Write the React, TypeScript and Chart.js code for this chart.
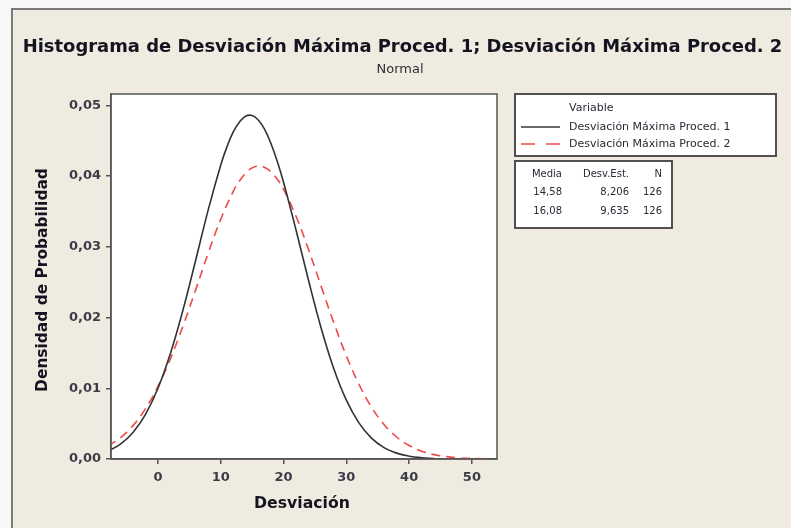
import React, { useEffect, useRef } from "react";
import { Chart, registerables } from "chart.js";
Chart.register(...registerables);

// Curve 1: Desviación Máxima Proced. 1
const xs1 = [-8, -6, -4, -2, 0, 2, 4, 6, 8, 10, 11, 12, 13, 14, 15, 16, 17, 18, 19, 20, 22, 24, 26, 28, 30, 32, 34, 36, 38, 40, 42, 44];
const ys1 = [0.00110, 0.00209, 0.00375, 0.00631, 0.01003, 0.01501, 0.02117, 0.02814, 0.03525, 0.04160, 0.04420, 0.04627, 0.04768, 0.04850, 0.04855, 0.04789, 0.04657, 0.04457, 0.04205, 0.03909, 0.03230, 0.02516, 0.01846, 0.01277, 0.00832, 0.00511, 0.00295, 0.00161, 0.00083, 0.00040, 0.00018, 0.00008];
// Curve 2: Desviación Máxima Proced. 2
const xs2 = [-8, -6, -4, -2, 0, 2, 4, 6, 8, 10, 12, 13, 14, 15, 16, 17, 18, 19, 20, 22, 24, 26, 28, 30, 32, 34, 36, 38, 40, 42, 44, 46, 48, 50, 52];
const ys2 = [0.00182, 0.00300, 0.00472, 0.00712, 0.01029, 0.01424, 0.01887, 0.02395, 0.02913, 0.03393, 0.03786, 0.03934, 0.04045, 0.04115, 0.04141, 0.04121, 0.04059, 0.03955, 0.03812, 0.03428, 0.02954, 0.02437, 0.01926, 0.01458, 0.01057, 0.00734, 0.00489, 0.00311, 0.00190, 0.00111, 0.00062, 0.00033, 0.00017, 0.00008, 0.00004];

const xTicks = [0, 10, 20, 30, 40, 50];
const yTicks = [0, 0.01, 0.02, 0.03, 0.04, 0.05];
const seriesNames = ["Desviación Máxima Proced. 1", "Desviación Máxima Proced. 2"];
const medias = ["14,58", "16,08"];
const desvEst = ["8,206", "9,635"];
const ns = ["126", "126"];

const TITLE = "Histograma de Desviación Máxima Proced. 1; Desviación Máxima Proced. 2";
const SUBTITLE = "Normal";
const XTITLE = "Desviación";
const YTITLE = "Densidad de Probabilidad";
const FONT = '"DejaVu Sans", sans-serif';

function fitFont(ctx: CanvasRenderingContext2D, text: string, weight: string, target: number) {
  ctx.font = `${weight} 20px ${FONT}`;
  const w = ctx.measureText(text).width;
  const size = (20 * target) / w;
  ctx.font = `${weight} ${size}px ${FONT}`;
}

const decor = {
  id: "decor",
  beforeDraw(chart: any) {
    const ctx = chart.ctx as CanvasRenderingContext2D;
    const W = chart.width, H = chart.height;
    ctx.save();
    ctx.fillStyle = "#f7f7f7";
    ctx.fillRect(0, 0, W, H);
    ctx.fillStyle = "#efebe1";
    ctx.fillRect(12, 9, W, H);
    ctx.strokeStyle = "#7a7a7a";
    ctx.lineWidth = 2;
    ctx.beginPath();
    ctx.moveTo(12, H + 5);
    ctx.lineTo(12, 9);
    ctx.lineTo(W + 5, 9);
    ctx.stroke();
    const a = chart.chartArea;
    ctx.fillStyle = "#ffffff";
    ctx.fillRect(a.left, a.top, a.right - a.left, a.bottom - a.top);
    ctx.restore();
  },
  afterDraw(chart: any) {
    const ctx = chart.ctx as CanvasRenderingContext2D;
    const a = chart.chartArea;
    ctx.save();
    // plot frame
    ctx.strokeStyle = "#555555";
    ctx.lineWidth = 1.5;
    ctx.strokeRect(a.left, a.top, a.right - a.left, a.bottom - a.top);

    // titles
    ctx.fillStyle = "#141420";
    ctx.textAlign = "center";
    ctx.textBaseline = "middle";
    fitFont(ctx, TITLE, "bold", 760);
    ctx.fillText(TITLE, 402.5, 47);
    ctx.fillStyle = "#303038";
    ctx.font = `13px ${FONT}`;
    ctx.fillText(SUBTITLE, 400, 70);

    ctx.fillStyle = "#141420";
    fitFont(ctx, XTITLE, "bold", 96);
    ctx.fillText(XTITLE, 302, 504);

    ctx.save();
    ctx.translate(43, 280);
    ctx.rotate(-Math.PI / 2);
    fitFont(ctx, YTITLE, "bold", 224);
    ctx.fillText(YTITLE, 0, 0);
    ctx.restore();

    // legend box
    ctx.fillStyle = "#ffffff";
    ctx.fillRect(515, 94, 261, 62);
    ctx.strokeStyle = "#505050";
    ctx.lineWidth = 2;
    ctx.strokeRect(515, 94, 261, 62);
    ctx.fillStyle = "#2a2a36";
    ctx.textAlign = "left";
    ctx.font = `11px ${FONT}`;
    ctx.fillText("Variable", 569, 108);
    const rows = [127, 144];
    seriesNames.forEach((n, i) => {
      ctx.fillStyle = "#2a2a36";
      ctx.font = `11px ${FONT}`;
      ctx.fillText(n, 569, rows[i]);
      ctx.beginPath();
      ctx.moveTo(521, rows[i]);
      ctx.lineTo(560, rows[i]);
      if (i === 0) {
        ctx.setLineDash([]);
        ctx.strokeStyle = "#3a3a3a";
      } else {
        ctx.setLineDash([14, 11]);
        ctx.strokeStyle = "#f04848";
      }
      ctx.lineWidth = 1.5;
      ctx.stroke();
      ctx.setLineDash([]);
    });

    // stats table
    ctx.fillStyle = "#ffffff";
    ctx.fillRect(515, 161, 157, 67);
    ctx.strokeStyle = "#505050";
    ctx.lineWidth = 2;
    ctx.strokeRect(515, 161, 157, 67);
    ctx.fillStyle = "#2a2a36";
    ctx.font = `10px ${FONT}`;
    ctx.textAlign = "right";
    const cols = [562, 629, 662];
    const headY = 174;
    ctx.fillText("Media", cols[0], headY);
    ctx.fillText("Desv.Est.", cols[1], headY);
    ctx.fillText("N", cols[2], headY);
    const ry = [192, 211];
    medias.forEach((m, i) => {
      ctx.fillText(m, cols[0], ry[i]);
      ctx.fillText(desvEst[i], cols[1], ry[i]);
      ctx.fillText(ns[i], cols[2], ry[i]);
    });
    ctx.restore();
  },
};

export default function App() {
  const ref = useRef<HTMLCanvasElement | null>(null);
  useEffect(() => {
    if (!ref.current) return;
    const chart = new Chart(ref.current, {
      type: "line",
      data: {
        datasets: [
          {
            label: seriesNames[0],
            data: xs1.map((x, i) => ({ x, y: ys1[i] })),
            borderColor: "#333333",
            borderWidth: 1.6,
            pointRadius: 0,
            tension: 0.4,
            fill: false,
            clip: 0,
          } as any,
          {
            label: seriesNames[1],
            data: xs2.map((x, i) => ({ x, y: ys2[i] })),
            borderColor: "#f04848",
            borderWidth: 1.6,
            borderDash: [9, 6],
            pointRadius: 0,
            tension: 0.4,
            fill: false,
            clip: 0,
          } as any,
        ],
      },
      options: {
        responsive: false,
        animation: false,
        devicePixelRatio: 1,
        layout: { padding: { left: 12, top: 94, right: 294, bottom: 29 } },
        plugins: { legend: { display: false }, title: { display: false }, tooltip: { enabled: false } },
        scales: {
          x: {
            type: "linear",
            min: -7.5,
            max: 54,
            afterFit: (s: any) => { s.height = 40; },
            afterBuildTicks: (s: any) => { s.ticks = xTicks.map((v) => ({ value: v })); },
            grid: { drawOnChartArea: false, drawTicks: true, tickLength: 5, color: "#555555", lineWidth: 1.5 },
            border: { display: true, color: "#555555", width: 1.5 },
            ticks: {
              padding: 6,
              color: "#3c3c48",
              font: { family: FONT, size: 13, weight: "bold" },
              maxRotation: 0,
              callback: (v: any) => String(v),
            },
          },
          y: {
            type: "linear",
            min: 0,
            max: 0.0516,
            afterFit: (s: any) => { s.width = 99; },
            afterBuildTicks: (s: any) => { s.ticks = yTicks.map((v) => ({ value: v })); },
            grid: { drawOnChartArea: false, drawTicks: true, tickLength: 5, color: "#555555", lineWidth: 1.5 },
            border: { display: true, color: "#555555", width: 1.5 },
            ticks: {
              padding: 5,
              color: "#3c3c48",
              font: { family: FONT, size: 13, weight: "bold" },
              callback: (v: any) => Number(v).toFixed(2).replace(".", ","),
            },
          },
        },
      } as any,
      plugins: [decor],
    });
    return () => chart.destroy();
  }, []);
  return (
    <div style={{ position: "fixed", left: 0, top: 0, width: 791, height: 528 }}>
      <canvas ref={ref} width={791} height={528} style={{ width: 791, height: 528, display: "block" }} />
    </div>
  );
}
